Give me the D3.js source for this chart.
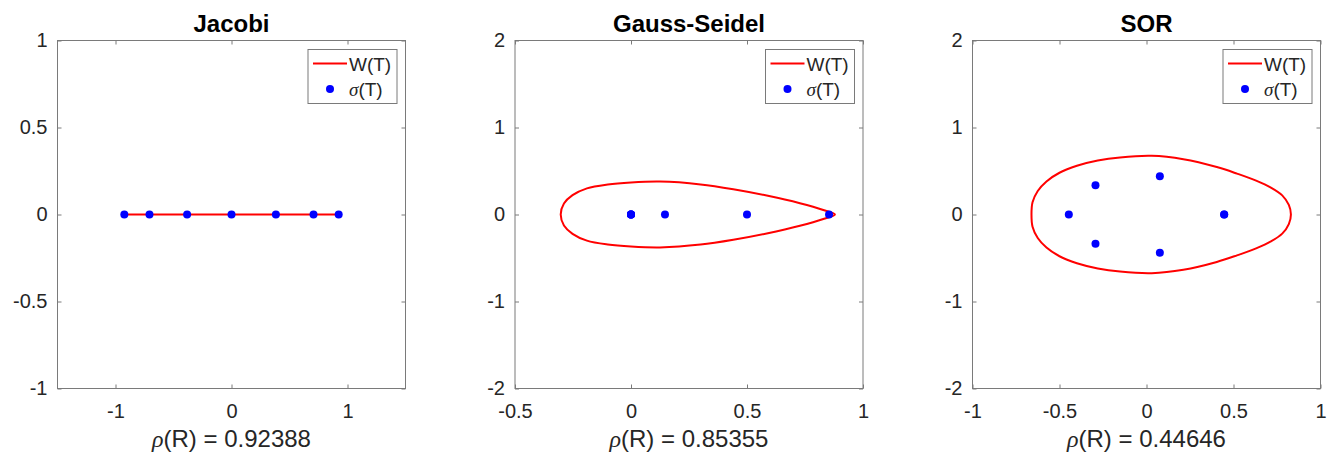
<!DOCTYPE html>
<html>
<head>
<meta charset="utf-8">
<script src="https://cdn.jsdelivr.net/npm/d3@7"></script>
<style>
  body { margin: 0; background: #fff; }
  svg { display: block; font-family: "Liberation Sans", Arial, Helvetica, sans-serif; }
</style>
</head>
<body>
<svg id="fig" width="1334" height="455"></svg>
<script>
// ---- data -------------------------------------------------------------
const panelTitles   = ["Jacobi", "Gauss-Seidel", "SOR"];
const spectralRadii = ["0.92388", "0.85355", "0.44646"];

const xDomains = [[-1.5, 1.5], [-0.5, 1], [-1, 1]];
const yDomains = [[-1, 1], [-2, 2], [-2, 2]];
const xTicks   = [[-1, 0, 1], [-0.5, 0, 0.5, 1], [-1, -0.5, 0, 0.5, 1]];
const yTicks   = [[-1, -0.5, 0, 0.5, 1], [-2, -1, 0, 1, 2], [-2, -1, 0, 1, 2]];

// eigenvalues sigma(T) of each iteration matrix (real / imaginary parts)
const jacobiSigmaRe = [-0.92388, -0.70711, -0.38268, 0, 0.38268, 0.70711, 0.92388];
const jacobiSigmaIm = [0, 0, 0, 0, 0, 0, 0];
const gsSigmaRe     = [0, 0, 0, 0, 0.14645, 0.5, 0.85355];
const gsSigmaIm     = [0, 0, 0, 0, 0, 0, 0];
const sorSigmaRe    = [-0.44646, -0.2932, -0.2932, 0.0767, 0.0767, 0.44646, 0.44646];
const sorSigmaIm    = [0, 0.3366, -0.3366, 0.4398, -0.4398, 0, 0];

// boundary of the numerical range W(T)
const jacobiWRe = [-0.92388, 0.92388];
const jacobiWIm = [0, 0];
const gsWRe = [0.879, 0.829, 0.728, 0.585, 0.441, 0.300, 0.125, 0.000, -0.100, -0.190, -0.252, -0.289,
               -0.303, -0.289, -0.252, -0.190, -0.100, 0.000, 0.125, 0.300, 0.441, 0.585, 0.728, 0.829];
const gsWIm = [0, 0.052, 0.130, 0.218, 0.291, 0.346, 0.378, 0.368, 0.345, 0.300, 0.222, 0.126,
               0, -0.126, -0.222, -0.300, -0.345, -0.368, -0.378, -0.346, -0.291, -0.218, -0.130, -0.052];
const sorWRe = [0.830, 0.818, 0.780, 0.715, 0.630, 0.520, 0.404, 0.212, 0.030, -0.152, -0.280, -0.400,
                -0.500, -0.575, -0.625, -0.655, -0.661, -0.655, -0.625, -0.575, -0.500, -0.400, -0.280,
                -0.152, 0.030, 0.212, 0.404, 0.520, 0.630, 0.715, 0.780, 0.818];
const sorWIm = [0, 0.110, 0.220, 0.310, 0.390, 0.470, 0.545, 0.635, 0.674, 0.656, 0.620, 0.560,
                0.480, 0.380, 0.270, 0.140, 0, -0.140, -0.270, -0.380, -0.480, -0.560, -0.620,
                -0.656, -0.674, -0.635, -0.545, -0.470, -0.390, -0.310, -0.220, -0.110];

const sigmaRe = [jacobiSigmaRe, gsSigmaRe, sorSigmaRe];
const sigmaIm = [jacobiSigmaIm, gsSigmaIm, sorSigmaIm];
const wRe = [jacobiWRe, gsWRe, sorWRe];
const wIm = [jacobiWIm, gsWIm, sorWIm];
const wClosed = [false, true, true];

// ---- layout -----------------------------------------------------------
const panelLeft = [57.5, 515, 972.5];
const panelTop = 40.5;
const panelW = 348, panelH = 348;
const axisColor = "#7a7a7a";
const textColor = "#262626";
const tickLen = 4;

const svg = d3.select("#fig");
const fmt = d => String(d);

panelTitles.forEach((title, i) => {
  const g = svg.append("g").attr("transform", `translate(${panelLeft[i]},${panelTop})`);
  const x = d3.scaleLinear().domain(xDomains[i]).range([0, panelW]);
  const y = d3.scaleLinear().domain(yDomains[i]).range([panelH, 0]);

  // axes with inward ticks on all four sides
  const styleAxis = sel => {
    sel.attr("font-family", null).attr("font-size", null);
    sel.select(".domain").remove();
    sel.selectAll(".tick line").attr("stroke", axisColor);
    sel.selectAll(".tick text").attr("fill", textColor).style("font-size", "20px");
  };
  g.append("g").attr("transform", `translate(0,${panelH})`)
    .call(d3.axisBottom(x).tickValues(xTicks[i]).tickFormat(fmt)
      .tickSizeInner(-tickLen).tickSizeOuter(0).tickPadding(15))
    .call(styleAxis);
  g.append("g")
    .call(d3.axisTop(x).tickValues(xTicks[i]).tickFormat("")
      .tickSizeInner(-tickLen).tickSizeOuter(0))
    .call(styleAxis);
  g.append("g")
    .call(d3.axisLeft(y).tickValues(yTicks[i]).tickFormat(fmt)
      .tickSizeInner(-tickLen).tickSizeOuter(0).tickPadding(10))
    .call(styleAxis);
  g.append("g").attr("transform", `translate(${panelW},0)`)
    .call(d3.axisRight(y).tickValues(yTicks[i]).tickFormat("")
      .tickSizeInner(-tickLen).tickSizeOuter(0))
    .call(styleAxis);

  g.append("rect")
    .attr("x", 0).attr("y", 0).attr("width", panelW).attr("height", panelH)
    .attr("fill", "none").attr("stroke", axisColor).attr("stroke-width", 1);

  // numerical range W(T)
  const pts = wRe[i].map((re, k) => [re, wIm[i][k]]);
  const line = d3.line().x(d => x(d[0])).y(d => y(d[1]))
    .curve(wClosed[i] ? d3.curveCatmullRomClosed.alpha(0.5) : d3.curveLinear);
  g.append("path").attr("d", line(pts))
    .attr("fill", "none").attr("stroke", "#ff0000").attr("stroke-width", 2)
    .attr("stroke-linejoin", "round");

  // spectrum sigma(T)
  g.selectAll("circle.eig")
    .data(sigmaRe[i].map((re, k) => [re, sigmaIm[i][k]]))
    .join("circle").attr("class", "eig")
    .attr("cx", d => x(d[0])).attr("cy", d => y(d[1])).attr("r", 4)
    .attr("fill", "#0000ff");

  // title
  g.append("text").attr("x", panelW / 2).attr("y", -9)
    .attr("text-anchor", "middle").attr("font-weight", "bold")
    .style("font-size", "24px").attr("fill", "#000").text(title);

  // x label: rho(R) = ...
  const xl = g.append("text").attr("x", panelW / 2).attr("y", panelH + 58)
    .attr("text-anchor", "middle").style("font-size", "24px").attr("fill", textColor);
  xl.append("tspan").attr("font-family", "'Liberation Serif', 'DejaVu Serif', serif")
    .attr("font-style", "italic").text("ρ");
  xl.append("tspan").text(`(R) = ${spectralRadii[i]}`);

  // legend
  const lw = 89, lh = 54;
  const lg = g.append("g").attr("transform", `translate(${panelW - 8.5 - lw},9)`);
  lg.append("rect").attr("width", lw).attr("height", lh)
    .attr("fill", "#fff").attr("stroke", axisColor).attr("stroke-width", 1);
  lg.append("line").attr("x1", 5).attr("x2", 39).attr("y1", 14).attr("y2", 14)
    .attr("stroke", "#ff0000").attr("stroke-width", 2);
  lg.append("text").attr("x", 41).attr("y", 21).style("font-size", "19px")
    .attr("fill", textColor).text("W(T)");
  lg.append("circle").attr("cx", 22).attr("cy", 39.5).attr("r", 4).attr("fill", "#0000ff");
  const st = lg.append("text").attr("x", 41).attr("y", 46).style("font-size", "19px").attr("fill", textColor);
  st.append("tspan").attr("font-family", "'Liberation Serif', 'DejaVu Serif', serif")
    .attr("font-style", "italic").text("σ");
  st.append("tspan").text("(T)");
});
</script>
</body>
</html>
